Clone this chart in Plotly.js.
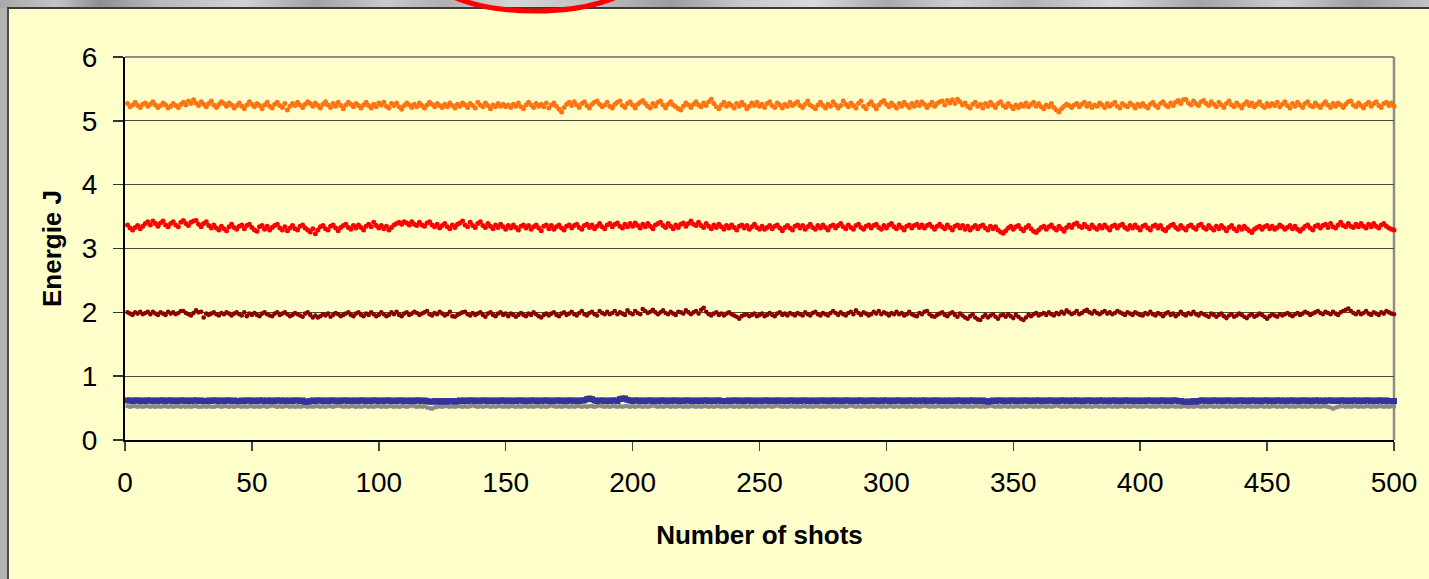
<!DOCTYPE html>
<html><head><meta charset="utf-8">
<script src="https://cdn.plot.ly/plotly-3.0.1.min.js"></script>
<style>
html,body{margin:0;padding:0;width:1429px;height:579px;overflow:hidden;background:#b4b4b4;}
#photo{position:absolute;left:0;top:0;width:1429px;height:8px;background:linear-gradient(90deg,#a9a9a9 0%,#c4c4c4 4%,#8f8f8f 7%,#b9b9b9 11%,#d2d2d2 17%,#a2a2a2 22%,#c9c9c9 27%,#b0b0b0 31%,#d6d6d6 36%,#bdbdbd 42%,#9c9c9c 47%,#c8c8c8 52%,#dadada 57%,#aaaaaa 62%,#cfcfcf 67%,#b3b3b3 72%,#d8d8d8 78%,#a5a5a5 84%,#cdcdcd 90%,#9f9f9f 95%,#c2c2c2 100%);}
#frame{position:absolute;left:7px;top:7px;width:1422px;height:572px;background:#FFFFCC;border-top:2px solid #3a3a3a;border-left:2px solid #4a4a4a;box-sizing:border-box;}
#chart{position:absolute;left:0;top:0;width:1429px;height:579px;}
#arc{position:absolute;left:0;top:0;pointer-events:none;}
</style></head>
<body>
<div id="photo"></div>
<div id="frame"></div>
<div id="chart"></div>
<svg id="arc" width="1429" height="579"><ellipse cx="535" cy="-28" rx="106" ry="39" fill="none" stroke="#FF0000" stroke-width="5"/></svg>
<script>
const xTitle = 'Number of shots';
const yTitle = 'Energie J';
const xTicks = [0,50,100,150,200,250,300,350,400,450,500];
const yTicks = [0,1,2,3,4,5,6];

const orange = [
5.27,5.22,5.25,5.29,5.24,5.21,5.26,5.28,5.23,5.26,5.30,5.25,5.21,5.24,5.28,5.25,5.20,5.23,5.27,5.24,5.21,5.26,5.29,5.25,5.31,
5.27,5.33,5.28,5.24,5.30,5.26,5.22,5.27,5.31,5.25,5.21,5.26,5.30,5.27,5.23,5.28,5.25,5.20,5.24,5.28,5.23,5.19,5.25,5.30,5.26,
5.22,5.27,5.24,5.19,5.25,5.29,5.23,5.20,5.26,5.29,5.24,5.21,5.27,5.17,5.23,5.27,5.24,5.29,5.25,5.21,5.26,5.30,5.27,5.23,5.28,
5.24,5.20,5.26,5.30,5.25,5.21,5.27,5.23,5.29,5.24,5.19,5.25,5.29,5.26,5.22,5.27,5.24,5.20,5.25,5.29,5.24,5.20,5.26,5.22,5.28,
5.25,5.29,5.23,5.20,5.27,5.24,5.28,5.22,5.18,5.24,5.28,5.25,5.21,5.26,5.22,5.28,5.24,5.20,5.25,5.29,5.26,5.22,5.27,5.24,5.21,
5.26,5.22,5.28,5.24,5.20,5.26,5.23,5.28,5.25,5.21,5.27,5.24,5.20,5.29,5.25,5.22,5.28,5.24,5.19,5.25,5.22,5.27,5.23,5.26,5.22,
5.25,5.21,5.26,5.23,5.28,5.22,5.19,5.25,5.29,5.25,5.21,5.27,5.23,5.26,5.22,5.28,5.20,5.25,5.28,5.23,5.18,5.14,5.21,5.26,5.29,
5.24,5.30,5.25,5.21,5.27,5.30,5.24,5.20,5.26,5.29,5.31,5.26,5.22,5.25,5.29,5.23,5.20,5.26,5.29,5.31,5.24,5.21,5.27,5.30,5.25,
5.20,5.26,5.29,5.32,5.27,5.23,5.20,5.27,5.23,5.29,5.31,5.25,5.20,5.26,5.30,5.25,5.22,5.19,5.17,5.23,5.28,5.25,5.21,5.26,5.30,
5.25,5.22,5.28,5.24,5.30,5.34,5.27,5.22,5.19,5.25,5.29,5.23,5.27,5.24,5.20,5.27,5.23,5.29,5.25,5.19,5.23,5.28,5.24,5.29,5.23,
5.26,5.21,5.27,5.30,5.24,5.21,5.28,5.25,5.20,5.26,5.23,5.29,5.24,5.27,5.30,5.24,5.21,5.26,5.31,5.25,5.22,5.19,5.25,5.29,5.24,
5.20,5.26,5.23,5.30,5.25,5.20,5.24,5.31,5.26,5.22,5.28,5.24,5.20,5.27,5.31,5.23,5.19,5.26,5.30,5.24,5.19,5.25,5.29,5.32,5.26,
5.22,5.28,5.24,5.20,5.27,5.23,5.29,5.25,5.21,5.27,5.23,5.29,5.24,5.30,5.26,5.21,5.25,5.29,5.23,5.27,5.30,5.31,5.25,5.32,5.28,
5.33,5.27,5.34,5.30,5.25,5.28,5.23,5.20,5.26,5.29,5.23,5.26,5.20,5.27,5.23,5.29,5.25,5.21,5.27,5.30,5.24,5.21,5.27,5.23,5.19,
5.25,5.21,5.26,5.23,5.28,5.22,5.26,5.29,5.23,5.27,5.22,5.19,5.25,5.22,5.27,5.21,5.17,5.14,5.19,5.23,5.26,5.24,5.21,5.25,5.27,
5.22,5.26,5.29,5.23,5.27,5.21,5.25,5.23,5.28,5.25,5.21,5.27,5.23,5.26,5.29,5.23,5.20,5.27,5.24,5.22,5.28,5.25,5.20,5.26,5.23,
5.27,5.23,5.20,5.26,5.29,5.24,5.21,5.27,5.30,5.25,5.22,5.28,5.24,5.29,5.32,5.27,5.33,5.34,5.28,5.25,5.31,5.27,5.24,5.30,5.32,
5.27,5.24,5.30,5.26,5.22,5.29,5.25,5.21,5.27,5.31,5.25,5.22,5.28,5.24,5.20,5.26,5.30,5.24,5.28,5.22,5.26,5.30,5.24,5.21,5.27,
5.23,5.27,5.24,5.29,5.22,5.26,5.30,5.24,5.20,5.27,5.23,5.29,5.25,5.21,5.27,5.30,5.24,5.22,5.28,5.24,5.21,5.26,5.30,5.25,5.21,
5.27,5.23,5.28,5.25,5.21,5.26,5.30,5.31,5.25,5.22,5.28,5.24,5.20,5.26,5.29,5.23,5.27,5.30,5.24,5.21,5.27,5.29,5.24,5.28,5.23];

const red = [
3.37,3.32,3.29,3.33,3.36,3.31,3.35,3.39,3.42,3.37,3.43,3.39,3.35,3.40,3.43,3.37,3.34,3.39,3.42,3.37,3.34,3.41,3.44,3.39,3.36,
3.41,3.43,3.44,3.38,3.34,3.39,3.42,3.36,3.32,3.37,3.32,3.29,3.35,3.31,3.28,3.34,3.38,3.33,3.30,3.35,3.37,3.31,3.36,3.38,3.33,
3.29,3.27,3.34,3.36,3.30,3.35,3.29,3.33,3.36,3.38,3.32,3.29,3.34,3.28,3.32,3.36,3.31,3.29,3.35,3.37,3.32,3.29,3.26,3.31,3.23,
3.29,3.34,3.36,3.31,3.29,3.35,3.37,3.32,3.28,3.33,3.36,3.38,3.33,3.30,3.36,3.32,3.37,3.33,3.29,3.35,3.38,3.34,3.41,3.36,3.32,
3.36,3.31,3.35,3.29,3.33,3.37,3.39,3.41,3.38,3.42,3.40,3.37,3.42,3.38,3.36,3.41,3.37,3.35,3.40,3.42,3.37,3.34,3.38,3.32,3.36,
3.39,3.34,3.31,3.37,3.33,3.38,3.40,3.43,3.37,3.34,3.41,3.36,3.33,3.39,3.42,3.36,3.33,3.39,3.35,3.31,3.37,3.33,3.38,3.34,3.30,
3.36,3.32,3.37,3.33,3.29,3.35,3.37,3.32,3.36,3.30,3.34,3.37,3.32,3.28,3.35,3.37,3.31,3.36,3.30,3.34,3.37,3.32,3.29,3.35,3.37,
3.32,3.36,3.38,3.33,3.30,3.36,3.38,3.33,3.37,3.31,3.35,3.39,3.34,3.31,3.37,3.39,3.34,3.38,3.40,3.35,3.32,3.38,3.34,3.39,3.35,
3.40,3.36,3.32,3.38,3.34,3.39,3.35,3.31,3.37,3.39,3.41,3.36,3.33,3.39,3.35,3.31,3.37,3.33,3.38,3.40,3.35,3.39,3.43,3.38,3.36,
3.41,3.36,3.33,3.39,3.35,3.31,3.37,3.33,3.38,3.34,3.30,3.36,3.32,3.37,3.33,3.29,3.35,3.37,3.32,3.36,3.30,3.34,3.38,3.33,3.30,
3.35,3.30,3.33,3.36,3.31,3.35,3.37,3.32,3.28,3.33,3.36,3.32,3.29,3.35,3.37,3.32,3.36,3.30,3.34,3.38,3.33,3.30,3.36,3.32,3.37,
3.33,3.29,3.35,3.37,3.32,3.36,3.39,3.34,3.31,3.37,3.33,3.30,3.36,3.38,3.33,3.30,3.35,3.37,3.32,3.36,3.38,3.33,3.30,3.36,3.32,
3.37,3.39,3.34,3.31,3.37,3.33,3.29,3.35,3.37,3.32,3.36,3.38,3.33,3.37,3.32,3.36,3.38,3.34,3.30,3.35,3.38,3.34,3.31,3.37,3.33,
3.29,3.35,3.37,3.32,3.36,3.30,3.35,3.29,3.33,3.36,3.31,3.35,3.37,3.32,3.29,3.35,3.31,3.34,3.29,3.26,3.24,3.28,3.32,3.35,3.30,
3.34,3.36,3.31,3.28,3.33,3.36,3.31,3.27,3.25,3.29,3.33,3.35,3.30,3.34,3.37,3.32,3.29,3.35,3.31,3.27,3.33,3.37,3.33,3.38,3.40,
3.35,3.33,3.38,3.34,3.31,3.37,3.33,3.30,3.36,3.32,3.37,3.33,3.29,3.35,3.37,3.32,3.36,3.38,3.33,3.30,3.36,3.32,3.37,3.33,3.29,
3.35,3.37,3.32,3.29,3.35,3.37,3.32,3.36,3.30,3.28,3.33,3.36,3.38,3.33,3.30,3.36,3.32,3.29,3.35,3.37,3.33,3.30,3.36,3.38,3.33,
3.30,3.36,3.32,3.29,3.35,3.31,3.36,3.32,3.28,3.33,3.36,3.31,3.28,3.34,3.30,3.35,3.31,3.28,3.25,3.30,3.33,3.35,3.30,3.34,3.36,
3.31,3.35,3.30,3.33,3.37,3.34,3.30,3.33,3.36,3.31,3.35,3.30,3.27,3.31,3.35,3.37,3.32,3.29,3.35,3.37,3.32,3.36,3.38,3.33,3.39,
3.34,3.32,3.37,3.41,3.36,3.34,3.39,3.35,3.33,3.38,3.34,3.39,3.35,3.32,3.38,3.34,3.39,3.35,3.32,3.37,3.39,3.35,3.32,3.30,3.29];

const darkRed = [
2.00,1.98,1.96,2.00,1.98,2.01,1.97,1.99,2.01,1.97,2.01,1.98,1.96,2.00,1.98,1.96,2.01,1.98,2.00,1.97,1.99,2.02,2.02,1.99,1.97,
1.95,1.99,2.03,2.00,2.01,1.92,1.98,1.96,1.98,2.00,1.97,1.95,1.99,1.97,2.00,1.98,1.95,1.98,2.00,1.97,1.95,2.00,1.94,1.98,1.96,
1.99,1.96,1.94,1.98,2.00,1.97,1.95,1.94,1.98,2.00,1.96,1.98,2.00,1.97,1.94,1.96,1.99,1.97,1.95,1.93,1.98,2.00,1.96,1.92,1.95,
1.92,1.94,1.97,1.95,1.98,1.93,1.96,1.99,1.97,1.94,1.96,1.98,2.00,1.96,1.94,1.98,2.00,1.96,1.94,1.98,1.96,2.00,1.97,1.94,1.96,
2.00,1.97,1.94,1.96,2.00,1.97,2.01,1.96,1.94,1.98,2.00,1.96,1.98,2.01,1.99,1.96,1.98,2.00,2.02,1.97,1.95,1.99,1.97,2.01,1.98,
1.95,1.97,2.01,1.94,1.93,1.96,1.98,2.00,2.01,1.97,1.95,1.99,1.96,1.98,2.00,1.96,1.93,1.98,2.00,1.96,1.94,1.98,2.00,1.96,1.98,
1.94,1.98,1.96,1.93,1.96,1.99,1.96,1.94,1.98,1.96,2.00,1.97,1.94,1.92,1.96,1.98,1.95,1.98,2.00,1.96,1.94,1.98,2.00,1.96,1.98,
2.01,1.97,1.95,1.99,2.02,1.97,1.95,1.99,2.01,1.97,1.95,2.02,1.99,1.97,2.01,1.97,1.99,2.02,1.97,2.00,1.98,1.96,2.03,1.99,1.97,
2.02,1.99,1.97,2.05,2.02,1.99,2.01,2.04,2.00,1.97,2.00,2.03,1.99,1.97,2.01,1.98,1.96,2.01,2.00,1.98,2.03,2.00,1.97,2.00,2.02,
1.98,2.04,2.07,2.01,1.97,1.95,1.98,2.00,1.96,1.98,1.95,1.98,2.00,1.97,1.95,1.93,1.90,1.94,1.96,1.97,1.94,1.96,1.98,1.94,1.96,
1.98,1.94,1.96,1.99,1.96,1.94,1.98,2.00,1.96,1.98,1.95,1.99,1.97,1.95,1.99,1.97,1.95,2.00,1.97,1.95,1.99,2.01,1.97,1.95,1.99,
1.97,1.95,1.99,2.02,1.99,1.96,2.00,1.97,1.95,1.99,2.01,1.97,2.03,1.99,1.96,2.00,1.98,1.95,1.97,2.01,1.98,2.02,1.97,2.00,1.98,
1.95,1.99,1.97,2.01,1.97,1.99,1.95,1.97,2.01,1.97,1.95,1.94,1.99,1.97,2.01,2.02,1.97,1.94,1.93,1.96,1.98,2.00,1.96,1.94,1.98,
2.00,1.96,1.93,1.98,1.95,1.92,1.90,1.94,1.97,1.92,1.89,1.88,1.93,1.96,1.92,1.95,1.97,1.93,1.90,1.95,1.96,1.93,1.97,1.94,1.91,
1.96,1.93,1.90,1.88,1.92,1.96,1.94,1.97,1.99,1.95,1.97,1.99,1.96,2.00,1.97,1.95,1.99,1.97,2.01,1.98,2.03,2.00,1.97,1.99,2.02,
1.97,1.99,2.02,2.04,2.00,1.98,2.02,1.99,1.97,2.00,2.02,1.98,2.00,1.97,1.99,2.02,2.00,1.98,1.96,2.00,1.98,1.96,2.00,1.98,1.96,
1.95,1.99,1.97,2.01,1.97,1.95,1.99,1.97,1.94,1.98,2.00,1.96,1.98,1.94,1.97,2.01,1.97,1.95,1.99,1.97,2.01,1.97,1.95,1.99,1.97,
1.95,1.93,1.98,1.96,1.93,1.96,1.98,1.94,1.91,1.95,1.97,1.93,1.95,1.98,1.96,1.93,1.91,1.95,1.97,1.93,1.95,1.98,1.96,1.93,1.90,
1.94,1.97,1.95,1.93,1.97,1.95,1.97,1.99,1.96,1.94,1.97,1.99,1.96,1.98,2.01,1.99,1.96,1.98,2.00,2.02,1.99,1.97,2.01,1.99,1.97,
2.01,1.98,1.96,2.00,2.02,2.04,2.06,2.02,1.99,1.97,2.01,1.97,1.99,2.02,1.98,1.96,2.00,1.98,1.96,2.00,1.98,2.02,2.00,1.98,1.97];

const blue = [
0.62,0.62,0.61,0.62,0.62,0.61,0.62,0.61,0.62,0.62,0.61,0.62,0.61,0.62,0.62,0.61,0.62,0.62,0.61,0.62,0.61,0.62,0.62,0.61,0.62,
0.61,0.62,0.62,0.61,0.62,0.61,0.61,0.62,0.61,0.62,0.62,0.61,0.62,0.61,0.62,0.62,0.61,0.62,0.61,0.61,0.62,0.61,0.62,0.62,0.61,
0.62,0.61,0.62,0.62,0.61,0.62,0.61,0.62,0.61,0.62,0.62,0.61,0.62,0.61,0.62,0.61,0.62,0.62,0.61,0.62,0.60,0.60,0.61,0.62,0.61,
0.62,0.62,0.61,0.62,0.61,0.62,0.62,0.61,0.62,0.61,0.62,0.62,0.61,0.62,0.61,0.62,0.61,0.62,0.62,0.61,0.62,0.61,0.62,0.62,0.61,
0.62,0.61,0.62,0.62,0.61,0.62,0.61,0.62,0.62,0.61,0.62,0.61,0.62,0.61,0.62,0.62,0.61,0.62,0.61,0.60,0.60,0.61,0.60,0.61,0.60,
0.61,0.60,0.61,0.61,0.60,0.61,0.62,0.61,0.62,0.61,0.62,0.62,0.61,0.62,0.61,0.62,0.62,0.61,0.62,0.61,0.62,0.61,0.62,0.62,0.61,
0.62,0.61,0.62,0.61,0.62,0.62,0.61,0.62,0.61,0.62,0.62,0.61,0.62,0.61,0.62,0.62,0.61,0.62,0.61,0.62,0.62,0.61,0.62,0.61,0.62,
0.62,0.61,0.62,0.61,0.62,0.62,0.64,0.65,0.64,0.62,0.61,0.62,0.62,0.61,0.62,0.61,0.62,0.62,0.61,0.64,0.65,0.65,0.63,0.62,0.61,
0.62,0.62,0.61,0.62,0.61,0.62,0.62,0.61,0.62,0.61,0.62,0.62,0.61,0.62,0.61,0.62,0.62,0.61,0.62,0.61,0.62,0.62,0.61,0.62,0.61,
0.62,0.61,0.62,0.62,0.61,0.62,0.61,0.62,0.62,0.61,0.61,0.61,0.62,0.61,0.62,0.62,0.61,0.62,0.61,0.62,0.62,0.61,0.62,0.61,0.62,
0.61,0.62,0.62,0.61,0.62,0.61,0.62,0.62,0.61,0.62,0.61,0.62,0.62,0.61,0.62,0.61,0.62,0.62,0.61,0.62,0.61,0.62,0.61,0.62,0.62,
0.61,0.62,0.61,0.62,0.62,0.61,0.62,0.61,0.62,0.62,0.61,0.62,0.61,0.62,0.62,0.61,0.62,0.61,0.62,0.62,0.61,0.62,0.61,0.62,0.62,
0.61,0.62,0.61,0.62,0.62,0.61,0.62,0.61,0.62,0.62,0.61,0.62,0.61,0.62,0.62,0.61,0.62,0.61,0.62,0.62,0.61,0.62,0.61,0.62,0.61,
0.62,0.61,0.62,0.62,0.61,0.62,0.61,0.62,0.62,0.61,0.62,0.61,0.62,0.61,0.60,0.61,0.62,0.61,0.62,0.62,0.61,0.62,0.61,0.62,0.62,
0.61,0.62,0.61,0.62,0.62,0.61,0.62,0.61,0.62,0.62,0.61,0.62,0.61,0.62,0.62,0.61,0.62,0.61,0.62,0.62,0.61,0.62,0.61,0.62,0.62,
0.61,0.62,0.61,0.62,0.62,0.61,0.62,0.61,0.62,0.62,0.61,0.62,0.61,0.62,0.62,0.61,0.62,0.61,0.62,0.62,0.61,0.62,0.61,0.62,0.61,
0.62,0.61,0.62,0.62,0.61,0.62,0.61,0.62,0.62,0.61,0.62,0.61,0.62,0.62,0.61,0.61,0.60,0.60,0.60,0.60,0.61,0.60,0.61,0.62,0.62,
0.61,0.62,0.61,0.62,0.62,0.61,0.62,0.61,0.62,0.62,0.61,0.62,0.61,0.62,0.62,0.61,0.62,0.61,0.62,0.62,0.61,0.62,0.61,0.62,0.62,
0.61,0.62,0.61,0.62,0.62,0.61,0.62,0.61,0.62,0.62,0.61,0.62,0.61,0.62,0.62,0.61,0.62,0.61,0.62,0.62,0.61,0.62,0.61,0.62,0.62,
0.61,0.62,0.61,0.62,0.62,0.61,0.62,0.61,0.62,0.62,0.61,0.62,0.61,0.62,0.62,0.61,0.62,0.61,0.62,0.62,0.61,0.62,0.61,0.61,0.61];

const gray = [
0.53,0.52,0.53,0.53,0.52,0.53,0.52,0.53,0.53,0.52,0.53,0.52,0.53,0.52,0.53,0.53,0.52,0.53,0.52,0.53,0.53,0.52,0.53,0.52,0.53,
0.52,0.53,0.53,0.52,0.52,0.53,0.52,0.53,0.52,0.52,0.53,0.53,0.52,0.53,0.53,0.52,0.53,0.52,0.53,0.53,0.52,0.53,0.52,0.53,0.53,
0.52,0.53,0.52,0.53,0.53,0.52,0.53,0.54,0.53,0.52,0.53,0.52,0.53,0.53,0.52,0.53,0.52,0.53,0.52,0.53,0.53,0.52,0.53,0.52,0.53,
0.53,0.52,0.53,0.52,0.53,0.53,0.52,0.53,0.54,0.53,0.52,0.53,0.52,0.53,0.53,0.52,0.53,0.52,0.53,0.53,0.52,0.53,0.52,0.53,0.53,
0.52,0.53,0.52,0.53,0.53,0.52,0.53,0.52,0.53,0.53,0.52,0.53,0.54,0.53,0.52,0.53,0.52,0.53,0.51,0.50,0.49,0.51,0.52,0.53,0.52,
0.53,0.53,0.52,0.53,0.52,0.53,0.53,0.52,0.53,0.52,0.53,0.54,0.53,0.52,0.53,0.52,0.53,0.53,0.52,0.53,0.52,0.53,0.53,0.52,0.53,
0.52,0.53,0.53,0.52,0.53,0.52,0.53,0.53,0.52,0.53,0.52,0.53,0.53,0.52,0.53,0.52,0.53,0.54,0.53,0.52,0.53,0.52,0.53,0.53,0.52,
0.53,0.52,0.53,0.53,0.52,0.53,0.52,0.53,0.53,0.52,0.53,0.54,0.53,0.52,0.53,0.52,0.53,0.53,0.52,0.53,0.52,0.53,0.53,0.52,0.53,
0.52,0.53,0.53,0.52,0.53,0.52,0.53,0.54,0.53,0.52,0.53,0.52,0.53,0.53,0.52,0.53,0.52,0.53,0.53,0.52,0.53,0.52,0.53,0.53,0.52,
0.53,0.52,0.53,0.53,0.52,0.53,0.52,0.53,0.53,0.52,0.53,0.52,0.53,0.53,0.52,0.53,0.52,0.53,0.53,0.52,0.53,0.52,0.53,0.53,0.52,
0.53,0.52,0.53,0.53,0.52,0.53,0.54,0.53,0.52,0.53,0.52,0.53,0.53,0.52,0.53,0.52,0.53,0.53,0.52,0.53,0.52,0.53,0.53,0.52,0.53,
0.52,0.53,0.53,0.52,0.53,0.52,0.53,0.53,0.52,0.53,0.54,0.53,0.52,0.53,0.52,0.53,0.53,0.52,0.53,0.52,0.53,0.53,0.52,0.53,0.52,
0.53,0.53,0.52,0.53,0.52,0.53,0.53,0.52,0.53,0.52,0.53,0.53,0.52,0.53,0.54,0.53,0.52,0.53,0.52,0.53,0.53,0.52,0.53,0.52,0.53,
0.53,0.52,0.53,0.52,0.53,0.53,0.52,0.53,0.52,0.53,0.53,0.52,0.53,0.52,0.53,0.54,0.53,0.52,0.53,0.52,0.53,0.53,0.52,0.53,0.52,
0.53,0.53,0.52,0.53,0.52,0.53,0.53,0.52,0.53,0.52,0.53,0.53,0.52,0.53,0.52,0.53,0.54,0.53,0.52,0.53,0.52,0.53,0.53,0.52,0.53,
0.52,0.53,0.53,0.52,0.53,0.52,0.53,0.53,0.52,0.53,0.52,0.53,0.53,0.52,0.53,0.52,0.53,0.53,0.52,0.53,0.52,0.53,0.53,0.52,0.53,
0.52,0.53,0.53,0.52,0.53,0.52,0.53,0.53,0.52,0.53,0.52,0.53,0.53,0.52,0.53,0.52,0.53,0.53,0.52,0.53,0.52,0.53,0.53,0.52,0.53,
0.52,0.53,0.53,0.52,0.53,0.52,0.53,0.53,0.52,0.53,0.52,0.53,0.53,0.52,0.53,0.52,0.53,0.53,0.52,0.53,0.52,0.53,0.53,0.52,0.53,
0.52,0.53,0.53,0.52,0.53,0.52,0.53,0.53,0.52,0.53,0.52,0.53,0.53,0.52,0.53,0.52,0.53,0.53,0.52,0.53,0.52,0.53,0.53,0.52,0.51,
0.49,0.51,0.52,0.53,0.53,0.52,0.53,0.52,0.53,0.53,0.52,0.53,0.52,0.53,0.53,0.52,0.53,0.52,0.53,0.53,0.52,0.53,0.52,0.53,0.53];

const shots = orange.map((_, i) => i + 1);

function series(y, color, size, symbol) {
  return {
    type: 'scatter', mode: 'markers', x: shots.slice(0, y.length), y: y,
    cliponaxis: false, hoverinfo: 'x+y',
    marker: {color: color, size: size, symbol: symbol, line: {width: 0}}
  };
}

const traces = [
  series(gray, '#8a8a8a', 4, 'square'),
  series(blue, '#333399', 6, 'square'),
  series(darkRed, '#8B0000', 4.6, 'circle'),
  series(red, '#FF0000', 5, 'circle'),
  series(orange, '#FF7410', 5, 'circle')
];

const font = 'Liberation Sans, Arial, Helvetica, sans-serif';
const layout = {
  width: 1429, height: 579,
  margin: {l: 125, r: 35, t: 57, b: 139, pad: 0},
  paper_bgcolor: 'rgba(0,0,0,0)', plot_bgcolor: 'rgba(0,0,0,0)',
  showlegend: false,
  font: {family: font, color: '#000'},
  xaxis: {
    range: [0, 500], tickmode: 'array', tickvals: xTicks, ticktext: xTicks.map(String),
    ticks: 'outside', ticklen: 9, tickwidth: 1.5, tickcolor: '#444',
    showgrid: false, zeroline: false, showline: true, linecolor: '#000', linewidth: 1.5,
    tickfont: {size: 28, family: font}, ticklabelstandoff: 8, automargin: false,
    title: {text: '<b>' + xTitle + '</b>', font: {size: 26, family: font}, standoff: 28}
  },
  yaxis: {
    range: [0, 6], tickmode: 'array', tickvals: yTicks, ticktext: yTicks.map(String),
    ticks: 'outside', ticklen: 10, tickwidth: 1.5, tickcolor: '#333',
    showgrid: true, gridcolor: '#4a4a3c', gridwidth: 1,
    zeroline: false, showline: true, linecolor: '#000', linewidth: 2,
    tickfont: {size: 28, family: font}, ticklabelstandoff: 10, automargin: false,
    title: {text: '<b>' + yTitle + '</b>', font: {size: 26, family: font}, standoff: 13}
  },
  shapes: [
    {type: 'line', xref: 'paper', yref: 'paper', x0: 0, x1: 1, y0: 1, y1: 1, line: {color: '#8c8c8c', width: 2}, layer: 'above'},
    {type: 'line', xref: 'paper', yref: 'paper', x0: 1, x1: 1, y0: 0, y1: 1, line: {color: '#8c8c8c', width: 2.5}, layer: 'below'}
  ]
};

Plotly.newPlot('chart', traces, layout, {staticPlot: true, displayModeBar: false});
</script>
</body></html>
